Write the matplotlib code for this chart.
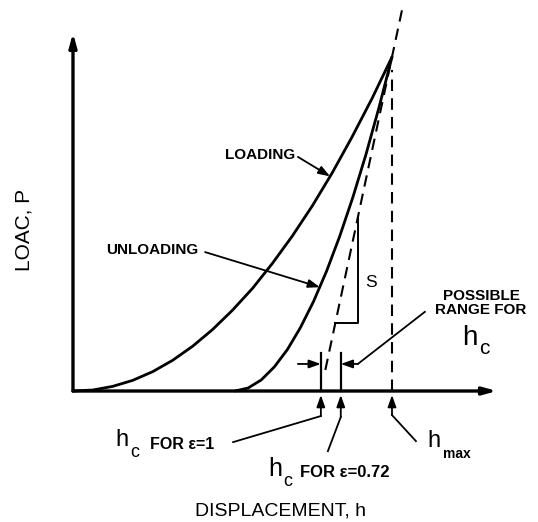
import matplotlib.pyplot as plt
import numpy as np

plt.rcParams['font.family'] = ['Liberation Sans', 'DejaVu Sans']

# curva de carga (h, P) normalizadas a h_max y P_max
h_load = [0, .0625, .125, .1875, .25, .3125, .375, .4375, .5, .5625, .625,
          .6875, .75, .8125, .875, .9375, 1.0]
P_load = [0, .003, .014, .032, .058, .092, .134, .184, .242, .307, .382,
          .464, .554, .653, .761, .876, 1.0]

# curva de descarga
h_unload = [.508, .549, .590, .631, .672, .713, .754, .795, .836, .877,
            .918, .959, 1.0]
P_unload = [0, .009, .033, .072, .124, .190, .268, .359, .463, .579,
            .707, .848, 1.0]

h_max = 1.0
P_max = 1.0
h_c1 = 0.777          # h_c para eps = 1 (corte de la recta de descarga)
eps = [1.0, 0.72]
S = P_max / (h_max - h_c1)
h_c = [h_max - e * P_max / S for e in eps]
P_tan = [0.063, 1.147]   # tramo dibujado de la recta de pendiente S

fig = plt.figure(figsize=(5.38, 5.22), dpi=100)
ax = fig.add_axes([0, 0, 1, 1])
ax.set_xlim(-0.2288, 1.4577)
ax.set_ylim(-0.3922, 1.1707)
ax.axis('off')

# ejes con flecha
big = dict(arrowstyle='-|>,head_length=0.8,head_width=0.22', lw=2.4,
           color='k', shrinkA=0, shrinkB=0)
ax.annotate('', xy=(0, 1.072), xytext=(0, 0), arrowprops=big,
            annotation_clip=False)
ax.annotate('', xy=(1.329, 0), xytext=(0, 0), arrowprops=big,
            annotation_clip=False)

ax.plot(h_load, P_load, color='k', lw=2.0, solid_capstyle='round')
ax.plot(h_unload, P_unload, color='k', lw=2.0, solid_capstyle='round')

# recta de pendiente S y vertical en h_max
h_tan = [h_c1 + (h_max - h_c1) * p / P_max for p in P_tan]
ax.plot(h_tan, P_tan, color='k', lw=1.5, dashes=(5.5, 3.5))
ax.plot([h_max, h_max], [0.0, P_max - 0.04], color='k', lw=1.5,
        dashes=(5.5, 3.5))

# triangulo S
tri_h = 0.893
tri_P = 0.204
ax.plot([h_c1 + (h_max - h_c1) * tri_P / P_max, tri_h, tri_h],
        [tri_P, tri_P, S * (tri_h - h_c1)], color='k', lw=1.4)
ax.text(0.934, 0.326, 'S', fontsize=12.5, ha='center', va='center')

# marcas de h_c
for hc in h_c:
    ax.plot([hc, hc], [0, 0.115], color='k', lw=1.6)

small = dict(arrowstyle='-|>,head_length=0.7,head_width=0.25', lw=1.3,
             color='k', shrinkA=0, shrinkB=0)

ax.annotate('', xy=(h_c[0], 0.081), xytext=(0.705, 0.081), arrowprops=small)
ax.plot([1.103, 0.893], [0.237, 0.081], color='k', lw=1.3)
ax.annotate('', xy=(h_c[1], 0.081), xytext=(0.893, 0.081), arrowprops=small)

ax.text(1.279, 0.263, 'POSSIBLE\nRANGE FOR', fontsize=11, fontweight='bold',
        ha='center', va='center', linespacing=1.05)
ax.text(1.245, 0.159, 'h', fontsize=20, ha='center', va='center')
ax.text(1.288, 0.128, 'c', fontsize=15, ha='center', va='center')

# etiquetas de las curvas
h_a = 0.806
ax.annotate('', xy=(h_a, h_a ** 2.05), xytext=(0.705, 0.701),
            arrowprops=small)
ax.text(0.586, 0.707, 'LOADING', fontsize=11, fontweight='bold',
        ha='center', va='center')
h_b = 0.774
ax.annotate('', xy=(h_b, ((h_b - 0.508) / 0.492) ** 1.9),
            xytext=(0.414, 0.416), arrowprops=small)
ax.text(0.248, 0.422, 'UNLOADING', fontsize=11, fontweight='bold',
        ha='center', va='center')

# flechas desde abajo
ax.plot([0.502, h_c[0]], [-0.153, -0.075], color='k', lw=1.3)
ax.annotate('', xy=(h_c[0], -0.012), xytext=(h_c[0], -0.075),
            arrowprops=small, annotation_clip=False)
ax.plot([0.799, h_c[1]], [-0.180, -0.078], color='k', lw=1.3)
ax.annotate('', xy=(h_c[1], -0.012), xytext=(h_c[1], -0.078),
            arrowprops=small, annotation_clip=False)
ax.plot([1.075, h_max], [-0.150, -0.072], color='k', lw=1.3)
ax.annotate('', xy=(h_max, -0.012), xytext=(h_max, -0.072),
            arrowprops=small, annotation_clip=False)

ax.text(0.152, -0.147, 'h', fontsize=17, ha='center', va='center')
ax.text(0.194, -0.183, 'c', fontsize=13, ha='center', va='center')
ax.text(0.241, -0.159, 'FOR \u03b5=1', fontsize=11.5, fontweight='bold',
        ha='left', va='center')

ax.text(0.633, -0.234, 'h', fontsize=18, ha='center', va='center')
ax.text(0.674, -0.272, 'c', fontsize=13, ha='center', va='center')
ax.text(0.712, -0.243, 'FOR \u03b5=0.72', fontsize=12, fontweight='bold',
        ha='left', va='center')

ax.text(1.133, -0.150, 'h', fontsize=17, ha='center', va='center')
ax.text(1.160, -0.189, 'max', fontsize=10, fontweight='bold',
        ha='left', va='center')

ax.text(0.649, -0.359, 'DISPLACEMENT, h', fontsize=14, ha='center',
        va='center')
ax.text(-0.154, 0.482, 'LOAC, P', fontsize=15, ha='center', va='center',
        rotation=90)

plt.savefig('out.png', dpi=100)
